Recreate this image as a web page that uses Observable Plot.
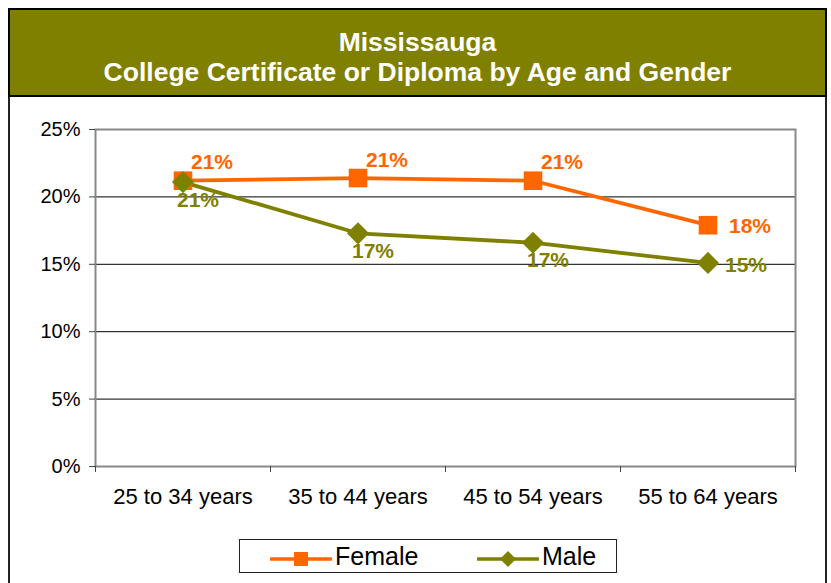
<!DOCTYPE html>
<html>
<head>
<meta charset="utf-8">
<script src="https://cdn.jsdelivr.net/npm/d3@7"></script>
<script src="https://cdn.jsdelivr.net/npm/@observablehq/plot@0.6"></script>
<style>
  html, body { margin: 0; padding: 0; background: #fff; }
  body { width: 831px; height: 583px; position: relative; overflow: hidden; font-family: "Liberation Sans", Arial, sans-serif; }
  #outer { position: absolute; left: 8px; top: 8px; width: 819px; height: 600px; border-left: 2px solid #222; border-right: 2px solid #222; box-sizing: border-box; }
  #banner { position: absolute; left: 8px; top: 8px; width: 819px; height: 89px; background: #808000; border: 2px solid #000; box-sizing: border-box; color: #fff; font-weight: bold; font-size: 26.5px; text-align: center; line-height: 30px; padding-top: 17px; }
  #chart { position: absolute; left: 0; top: 97px; }
  #legend { position: absolute; left: 239px; top: 539px; width: 378px; height: 34px; border: 1px solid #222; box-sizing: border-box; background: #fff; font-size: 25px; }
  .item { position: absolute; top: 0; height: 32px; display: flex; align-items: center; }
  .item svg { display: block; }
  .item span { margin-left: 3px; }
</style>
</head>
<body>
<div id="outer"></div>
<div id="banner"><div>Mississauga</div><div>College Certificate or Diploma by Age and Gender</div></div>
<div id="chart"></div>
<div id="legend"></div>
<script>
const categories = ["25 to 34 years", "35 to 44 years", "45 to 54 years", "55 to 64 years"];
const female = [0.212, 0.214, 0.212, 0.179];
const male = [0.211, 0.173, 0.166, 0.151];
const yTicks = [0, 0.05, 0.10, 0.15, 0.20, 0.25];
const seriesNames = ["Female", "Male"];
const seriesColors = ["#FF6600", "#808000"];

const n = categories.length;
const rows = [];
female.forEach((v, i) => rows.push({series: "Female", i, x: i + 0.5, y: v}));
male.forEach((v, i) => rows.push({series: "Male", i, x: i + 0.5, y: v}));
const fem = rows.filter(d => d.series === "Female");
const mal = rows.filter(d => d.series === "Male");
const pct = d3.format(".0%");
const last = n - 1;

const chart = Plot.plot({
  width: 831,
  height: 430,
  marginLeft: 95,
  marginRight: 36,
  marginTop: 32,
  marginBottom: 61,
  style: {fontFamily: "'Liberation Sans', Arial, sans-serif", fontSize: "20px", color: "#000", background: "transparent", overflow: "visible"},
  x: {domain: [0, n], axis: null},
  y: {domain: [0, 0.25], axis: null},
  marks: [
    Plot.ruleY(yTicks.filter(t => t > 0 && t < 0.25), {stroke: "#000", strokeWidth: 1}),
    Plot.frame({stroke: "#888", strokeWidth: 2}),
    Plot.axisY({ticks: yTicks, tickFormat: pct, tickSize: 6, tickPadding: 9, fontSize: 20, stroke: "#444", label: null}),
    Plot.axisX({ticks: d3.range(n + 1), tickFormat: () => "", tickSize: 6, stroke: "#444", label: null}),
    Plot.axisX({ticks: d3.range(n).map(i => i + 0.5), tickFormat: t => categories[Math.round(t - 0.5)], tickSize: 0, tickPadding: 22, fontSize: 22, label: null}),
    Plot.line(fem, {x: "x", y: "y", stroke: seriesColors[0], strokeWidth: 3.8}),
    Plot.line(mal, {x: "x", y: "y", stroke: seriesColors[1], strokeWidth: 3.8}),
    Plot.dot(fem, {x: "x", y: "y", symbol: "square", r: 10.5, fill: seriesColors[0], stroke: "none"}),
    Plot.dot(mal, {x: "x", y: "y", symbol: "diamond2", r: 10, fill: seriesColors[1], stroke: "none"}),
    Plot.text(fem.filter(d => d.i < last), {x: "x", y: "y", text: d => pct(d.y), fill: seriesColors[0], fontWeight: "bold", fontSize: 21, textAnchor: "start", dx: 8, dy: -18}),
    Plot.text(fem.filter(d => d.i === last), {x: "x", y: "y", text: d => pct(d.y), fill: seriesColors[0], fontWeight: "bold", fontSize: 21, textAnchor: "start", dx: 21, dy: 1}),
    Plot.text(mal.filter(d => d.i < last), {x: "x", y: "y", text: d => pct(d.y), fill: seriesColors[1], fontWeight: "bold", fontSize: 21, textAnchor: "middle", dx: 15, dy: 18}),
    Plot.text(mal.filter(d => d.i === last), {x: "x", y: "y", text: d => pct(d.y), fill: seriesColors[1], fontWeight: "bold", fontSize: 21, textAnchor: "start", dx: 17, dy: 2})
  ]
});
document.getElementById("chart").appendChild(chart);

// Legend
const legend = document.getElementById("legend");
const lefts = [30, 237];
seriesNames.forEach((name, k) => {
  const item = document.createElement("div");
  item.className = "item";
  item.style.left = lefts[k] + "px";
  const sw = d3.create("svg").attr("width", 62).attr("height", 32);
  sw.append("line").attr("x1", 1).attr("x2", 61).attr("y1", 19).attr("y2", 19).attr("stroke", seriesColors[k]).attr("stroke-width", 3.5).attr("stroke-linecap", "round");
  if (k === 0) {
    sw.append("rect").attr("x", 31 - 7).attr("y", 19 - 7).attr("width", 14).attr("height", 14).attr("fill", seriesColors[k]);
  } else {
    sw.append("path").attr("d", "M31,11L39,19L31,27L23,19Z").attr("fill", seriesColors[k]);
  }
  item.appendChild(sw.node());
  const label = document.createElement("span");
  label.textContent = name;
  item.appendChild(label);
  legend.appendChild(item);
});
</script>
</body>
</html>
